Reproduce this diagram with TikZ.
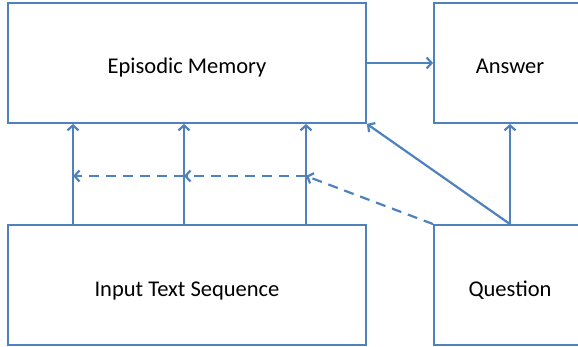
\documentclass[tikz,border=0pt]{standalone}
\usepackage{fontspec}
\setmainfont{Carlito}
\usetikzlibrary{arrows.meta}
\definecolor{lineblue}{RGB}{79,129,189}

\begin{document}
\begin{tikzpicture}[x=1pt,y=1pt]
\tikzstyle{every node}+=[inner sep=0pt]
\tikzstyle{box}=[draw=lineblue, line width=1.8pt, minimum width=358pt, minimum height=120pt, text height=22pt, text depth=0pt, font=\fontsize{22.5}{27}\selectfont]
\tikzstyle{small}=[minimum width=152pt]
\tikzstyle{arr}=[draw=lineblue, line width=2.2pt, -{Straight Barb[length=5pt,width=11pt]}]
\tikzstyle{darr}=[arr, dash pattern=on 10pt off 7pt]
\useasboundingbox (0,0) rectangle (578,-347);
% boxes
\node [box] (mem) at (187,-63) {Episodic Memory};
\node [box, small] (ans) at (510,-63) {Answer};
\node [box] (inp) at (187,-285) {Input Text Sequence};
\node [box, small] (quest) at (510,-285) {Question};
% crossing points of the dashed line
\coordinate (h1) at (73,-176);
\coordinate (h2) at (184,-176);
\coordinate (h3) at (306,-176);
% input to memory
\draw [arr] (inp.north -| h1) -- (mem.south -| h1);
\draw [arr] (inp.north -| h2) -- (mem.south -| h2);
\draw [arr] (inp.north -| h3) -- (mem.south -| h3);
% question
\draw [arr] (quest.north) -- (ans.south);
\draw [arr] (quest.north) -- (mem.south east);
\draw [arr] (mem.east) -- (ans.west);
% dashed path
\draw [darr] (quest.north west) -- (h3);
\draw [darr] (h3) -- (h2);
\draw [darr] (h2) -- (h1);
\end{tikzpicture}
\end{document}
